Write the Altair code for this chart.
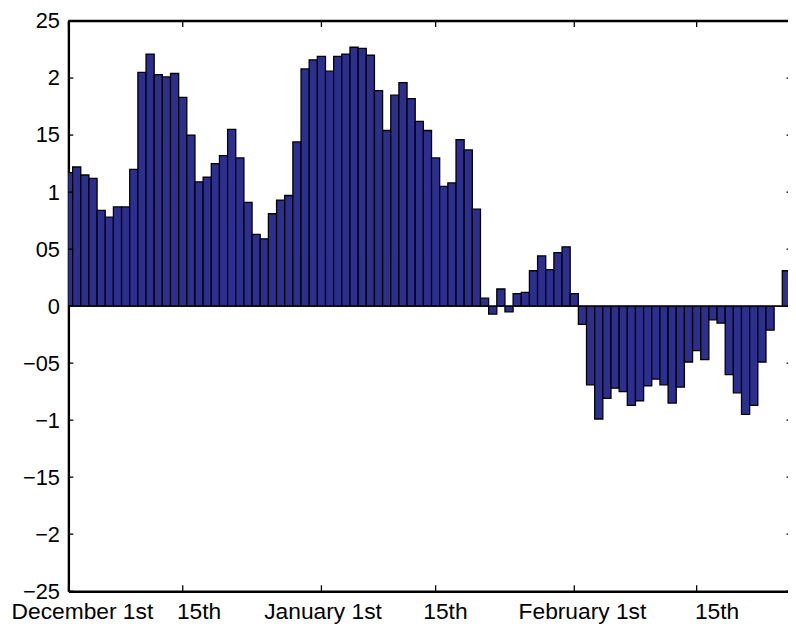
import json
import altair as alt
import pandas as pd

# Daily values, December 1st onward (one bar per day)
values = [
    1.17, 1.22, 1.15, 1.12, 0.84, 0.78, 0.87, 0.87, 1.20, 2.05,
    2.21, 2.03, 2.01, 2.04, 1.83, 1.50, 1.09, 1.13, 1.25, 1.32,
    1.55, 1.30, 0.91, 0.63, 0.59, 0.81, 0.93, 0.97, 1.44, 2.08,
    2.16, 2.19, 2.06, 2.19, 2.21, 2.27, 2.26, 2.20, 1.89, 1.54,
    1.85, 1.96, 1.82, 1.62, 1.54, 1.30, 1.05, 1.08, 1.46, 1.37,
    0.85, 0.07, -0.07, 0.15, -0.05, 0.11, 0.12, 0.31, 0.44, 0.32,
    0.47, 0.52, 0.11, -0.16, -0.69, -0.99, -0.81, -0.72, -0.75, -0.87,
    -0.83, -0.70, -0.64, -0.69, -0.85, -0.71, -0.49, -0.39, -0.47, -0.12,
    -0.15, -0.60, -0.76, -0.95, -0.87, -0.49, -0.21, 0.0, 0.31,
]
days = list(range(len(values)))

y_tick_values = [2.5, 2, 1.5, 1, 0.5, 0, -0.5, -1, -1.5, -2, -2.5]
y_tick_labels = ["25", "2", "15", "1", "05", "0", "−05", "−1", "−15", "−2", "−25"]

x_tick_days = [0, 14, 31, 45, 62, 77]
x_label_texts = ["December 1st", "15th", "January 1st", "15th", "February 1st", "15th"]
x_label_days = [1.7, 16.0, 31.2, 46.2, 63.0, 79.5]

W, H = 727, 576
FONT = "Liberation Sans"
BAR = "#2d2f8e"

bars_df = pd.DataFrame({"day": days, "value": values})
yt_df = pd.DataFrame({"v": y_tick_values})
xt_df = pd.DataFrame({"d": x_tick_days})
xl_df = pd.DataFrame({"d": x_label_days, "t": x_label_texts})

xs = alt.Scale(domain=[-0.02, 88.2], nice=False, zero=False)
ys = alt.Scale(domain=[-2.5, 2.5], nice=False, zero=False)

label_expr = (
    json.dumps(y_tick_labels, ensure_ascii=False)
    + "[indexof(" + json.dumps(y_tick_values) + ", datum.value)]"
)

xaxis = alt.Axis(values=x_tick_days, labels=False, ticks=False, grid=False,
                 domainColor="black", domainWidth=2.4, title=None)
yaxis = alt.Axis(values=y_tick_values, labelExpr=label_expr, ticks=False, tickSize=0,
                 grid=False, domainColor="black", domainWidth=2.4, title=None,
                 labelFont=FONT, labelFontSize=22, labelColor="black",
                 labelPadding=9, labelOverlap=False)

bars = alt.Chart(bars_df).transform_calculate(
    start="datum.day - 0.5", end="datum.day + 0.5"
).mark_bar(clip=True, fill=BAR, stroke="black", strokeWidth=1.3).encode(
    x=alt.X("start:Q", scale=xs, axis=xaxis),
    x2="end:Q",
    y=alt.Y("value:Q", scale=ys, axis=yaxis),
    y2=alt.datum(0),
)

zero = alt.Chart(bars_df).transform_filter("datum.day == 0").transform_calculate(
    z="0"
).mark_rule(color="black", strokeWidth=1.3).encode(
    y=alt.Y("z:Q", scale=ys, axis=yaxis),
    x=alt.value(0), x2=alt.value(W),
)

top_line = alt.Chart(bars_df).transform_filter("datum.day == 0").mark_rule(
    color="black", strokeWidth=2.4
).encode(y=alt.value(0), x=alt.value(0), x2=alt.value(W))

left_ticks = alt.Chart(yt_df).mark_rule(color="black", strokeWidth=1.3).encode(
    y=alt.Y("v:Q", scale=ys, axis=yaxis), x=alt.value(0), x2=alt.value(5)
)
right_ticks = alt.Chart(yt_df).mark_rule(color="black", strokeWidth=1.3).encode(
    y=alt.Y("v:Q", scale=ys, axis=yaxis), x=alt.value(W - 1.5), x2=alt.value(W)
)
bottom_ticks = alt.Chart(xt_df).mark_rule(color="black", strokeWidth=1.3).encode(
    x=alt.X("d:Q", scale=xs, axis=xaxis), y=alt.value(H), y2=alt.value(H - 6)
)
top_ticks = alt.Chart(xt_df).mark_rule(color="black", strokeWidth=1.3).encode(
    x=alt.X("d:Q", scale=xs, axis=xaxis), y=alt.value(0), y2=alt.value(6)
)
x_labels = alt.Chart(xl_df).mark_text(
    font=FONT, fontSize=23, color="black", align="center", baseline="alphabetic"
).encode(
    x=alt.X("d:Q", scale=xs, axis=xaxis), y=alt.value(H + 28), text="t:N"
)

chart = alt.layer(
    bars, zero, top_line, left_ticks, right_ticks, bottom_ticks, top_ticks, x_labels
).properties(
    width=W, height=H,
    autosize=alt.AutoSizeParams(type="none"),
    padding={"left": 61, "top": 10, "right": 0, "bottom": 33},
    background="white",
).configure_view(stroke=None)

chart.save("out.html", embed_options={"renderer": "svg", "actions": False})
